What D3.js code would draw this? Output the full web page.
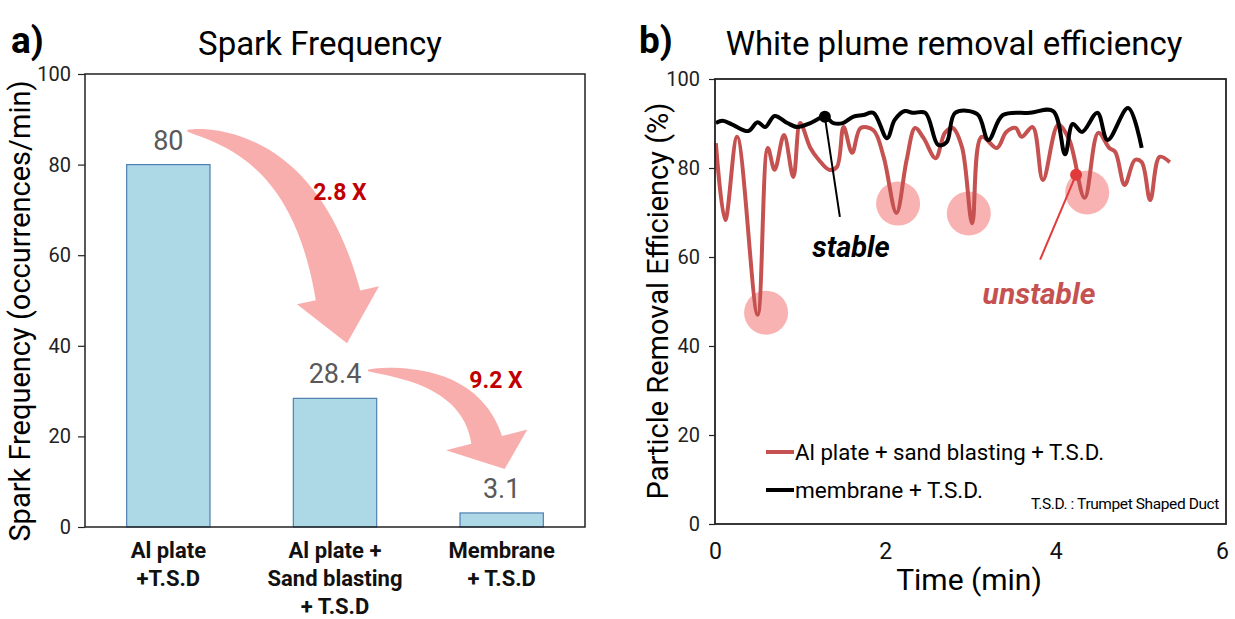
<!DOCTYPE html>
<html>
<head>
<meta charset="utf-8">
<script src="https://cdnjs.cloudflare.com/ajax/libs/d3/7.8.5/d3.min.js"></script>
<style>
  body { margin: 0; background: #fff; }
  svg text { font-family: Roboto, "DejaVu Sans", sans-serif; }
</style>
</head>
<body>
<svg id="chart" width="1235" height="619"></svg>
<script>
// ---- panel a) data
const categories = [["Al plate", "+T.S.D"], ["Al plate +", "Sand blasting", "+ T.S.D"], ["Membrane", "+ T.S.D"]]
const sparkFreq = [80, 28.4, 3.1]
const foldLabels = ["2.8 X", "9.2 X"]
const yTicksA = [0, 20, 40, 60, 80, 100]

// ---- panel b) data
const timeMembrane = [0.01, 0.09, 0.21, 0.39, 0.50, 0.59, 0.70, 0.85, 0.97, 1.12, 1.29, 1.39, 1.50, 1.62, 1.74, 1.86, 2.02, 2.11, 2.23, 2.32, 2.47, 2.62, 2.72, 2.82, 3.08, 3.21, 3.38, 3.70, 3.97, 4.11, 4.20, 4.31, 4.49, 4.61, 4.85, 5.01]
const effMembrane = [90.1, 90.6, 89.7, 88.3, 90.3, 89.2, 91.7, 90.1, 89.2, 90.1, 91.5, 90.1, 90.1, 91.5, 91.9, 92.4, 86.7, 90.8, 92.8, 92.4, 92.4, 85.2, 85.8, 92.4, 92.1, 86.3, 91.9, 92.4, 92.8, 83.1, 89.9, 88.1, 92.4, 86.3, 93.5, 84.5]
const timeSand = [0.01, 0.12, 0.26, 0.50, 0.62, 0.70, 0.81, 0.92, 1.00, 1.12, 1.22, 1.34, 1.43, 1.51, 1.61, 1.71, 1.86, 1.98, 2.13, 2.25, 2.35, 2.45, 2.59, 2.70, 2.79, 2.90, 3.02, 3.13, 3.31, 3.42, 3.53, 3.60, 3.73, 3.85, 4.03, 4.16, 4.34, 4.50, 4.63, 4.70, 4.81, 4.93, 5.01, 5.11, 5.22, 5.34]
const effSand = [85.6, 68.3, 87.0, 47.0, 84.5, 79.6, 87.4, 78.0, 90.1, 84.5, 81.8, 79.6, 80.2, 89.2, 83.4, 89.0, 88.5, 82.5, 69.9, 81.8, 89.0, 86.7, 82.2, 87.9, 89.0, 84.7, 67.6, 87.0, 84.5, 88.1, 89.0, 87.0, 89.2, 77.3, 89.7, 86.3, 73.3, 87.9, 84.5, 83.6, 76.2, 81.8, 81.3, 72.8, 82.5, 81.3]
const unstableDips = [[0.6, 47.5], [2.15, 72], [2.98, 69.8], [4.37, 74.5]]
const stablePoint = [1.29, 91.5]
const unstablePoint = [4.24, 78.5]
const legendNames = ["Al plate + sand blasting + T.S.D.", "membrane + T.S.D."]
const xTicksB = [0, 2, 4, 6]
const yTicksB = [0, 20, 40, 60, 80, 100]

const svg = d3.select("#chart")
const pink = "#f8a5a5"
const redLine = "#c55150"

// ================= panel a =================
const xA = d3.scaleBand().domain(d3.range(categories.length)).range([85, 585]).paddingInner(0.5).paddingOuter(0.25)
const yA = d3.scaleLinear().domain([0, 100]).range([527, 74])

svg.append("text").attr("x", 11).attr("y", 53).attr("font-size", 37).attr("font-weight", "bold").text("a)")
svg.append("text").attr("x", 320).attr("y", 55).attr("text-anchor", "middle").attr("font-size", 33).text("Spark Frequency")

svg.append("g").selectAll("rect").data(sparkFreq).join("rect")
  .attr("x", (d, i) => xA(i))
  .attr("y", d => yA(d))
  .attr("width", xA.bandwidth())
  .attr("height", d => yA(0) - yA(d))
  .attr("fill", "#add8e6")
  .attr("stroke", "#4f7fb3")
  .attr("stroke-width", 1.2)

svg.append("g").selectAll("text").data(sparkFreq).join("text")
  .attr("x", (d, i) => xA(i) + xA.bandwidth() / 2)
  .attr("y", d => yA(d) - 15)
  .attr("text-anchor", "middle")
  .attr("font-size", 27)
  .attr("fill", "#595959")
  .text(d => d)

svg.append("rect").attr("x", 85).attr("y", yA(100)).attr("width", 500).attr("height", yA(0) - yA(100))
  .attr("fill", "none").attr("stroke", "#222").attr("stroke-width", 1.5)

const axA = svg.append("g").attr("transform", "translate(85,0)")
  .call(d3.axisLeft(yA).tickValues(yTicksA).tickSize(7).tickPadding(7))
axA.select(".domain").remove()
axA.selectAll("line").attr("stroke", "#222").attr("stroke-width", 1.2)
axA.selectAll("text").attr("font-size", 20).attr("font-family", "Roboto").attr("fill", "#222")

svg.append("text").attr("transform", "translate(30,311) rotate(-90)").attr("text-anchor", "middle")
  .attr("font-size", 29).text("Spark Frequency (occurrences/min)")

categories.forEach((lines, i) => {
  const t = svg.append("text").attr("text-anchor", "middle").attr("font-family", "Lato")
    .attr("font-weight", "bold").attr("font-size", 22).attr("fill", "#111")
  lines.forEach((s, j) => {
    t.append("tspan").attr("x", xA(i) + xA.bandwidth() / 2).attr("y", 558 + j * 28).text(s)
  })
})

// curved fat arrow: quadratic body tapering from 0 to w, with triangular head
function fatArrow(p0, c, p1, tip, w, hw) {
  const n = 30, left = [], right = []
  for (let k = 0; k <= n; k++) {
    const t = k / n
    const x = (1 - t) * (1 - t) * p0[0] + 2 * (1 - t) * t * c[0] + t * t * p1[0]
    const y = (1 - t) * (1 - t) * p0[1] + 2 * (1 - t) * t * c[1] + t * t * p1[1]
    const dx = 2 * (1 - t) * (c[0] - p0[0]) + 2 * t * (p1[0] - c[0])
    const dy = 2 * (1 - t) * (c[1] - p0[1]) + 2 * t * (p1[1] - c[1])
    const len = Math.hypot(dx, dy)
    const nx = -dy / len, ny = dx / len
    const half = w * Math.pow(t, 0.7) / 2 + 0.8
    left.push([x + nx * half, y + ny * half])
    right.push([x - nx * half, y - ny * half])
  }
  const dx = p1[0] - c[0], dy = p1[1] - c[1], len = Math.hypot(dx, dy)
  const nx = -dy / len, ny = dx / len
  const pts = left.concat([[p1[0] + nx * hw / 2, p1[1] + ny * hw / 2], tip, [p1[0] - nx * hw / 2, p1[1] - ny * hw / 2]], right.reverse())
  return "M" + pts.map(p => p.join(",")).join("L") + "Z"
}

const cx = i => xA(i) + xA.bandwidth() / 2
svg.append("path").attr("fill", pink).attr("opacity", 0.9)
  .attr("d", fatArrow([cx(0) + 19, yA(sparkFreq[0]) - 34], [cx(1) - 30, yA(sparkFreq[0]) - 20], [cx(1) + 3, yA(sparkFreq[1]) - 103], [cx(1) + 12, yA(sparkFreq[1]) - 55], 44, 84))
svg.append("path").attr("fill", pink).attr("opacity", 0.9)
  .attr("d", fatArrow([cx(1) + 33, yA(sparkFreq[1]) - 28], [cx(2) - 32, yA(sparkFreq[1]) - 25], [cx(2) - 15, yA(sparkFreq[2]) - 73], [cx(2) + 3, yA(sparkFreq[2]) - 44], 30, 84))

svg.append("text").attr("x", 340).attr("y", 200).attr("text-anchor", "middle").attr("font-size", 23)
  .attr("font-weight", "bold").attr("fill", "#c00000").text(foldLabels[0])
svg.append("text").attr("x", 496).attr("y", 388).attr("text-anchor", "middle").attr("font-size", 23)
  .attr("font-weight", "bold").attr("fill", "#c00000").text(foldLabels[1])

// ================= panel b =================
const xB = d3.scaleLinear().domain([0, 6]).range([715, 1226])
const yB = d3.scaleLinear().domain([0, 100]).range([524, 79])

svg.append("text").attr("x", 639).attr("y", 53).attr("font-size", 37).attr("font-weight", "bold").text("b)")
svg.append("text").attr("x", 954).attr("y", 55).attr("text-anchor", "middle").attr("font-size", 33).text("White plume removal efficiency")

// highlight circles behind lines
svg.append("g").selectAll("circle").data(unstableDips).join("circle")
  .attr("cx", d => xB(d[0])).attr("cy", d => yB(d[1])).attr("r", 22)
  .attr("fill", pink).attr("opacity", 0.85)

const line = d3.line().x(d => xB(d[0])).y(d => yB(d[1])).curve(d3.curveCatmullRom.alpha(0.5))

svg.append("path").datum(d3.zip(timeSand, effSand)).attr("d", line)
  .attr("fill", "none").attr("stroke", redLine).attr("stroke-width", 4).attr("stroke-linejoin", "round")
svg.append("path").datum(d3.zip(timeMembrane, effMembrane)).attr("d", line)
  .attr("fill", "none").attr("stroke", "#000").attr("stroke-width", 4).attr("stroke-linejoin", "round")

svg.append("rect").attr("x", 715).attr("y", yB(100)).attr("width", 511).attr("height", yB(0) - yB(100))
  .attr("fill", "none").attr("stroke", "#222").attr("stroke-width", 1.8)

const axB = svg.append("g").attr("transform", "translate(715,0)")
  .call(d3.axisLeft(yB).tickValues(yTicksB).tickSize(6).tickPadding(9))
axB.select(".domain").remove()
axB.selectAll("line").attr("stroke", "#222").attr("stroke-width", 1.2)
axB.selectAll("text").attr("font-size", 20).attr("font-family", "Roboto").attr("fill", "#222")

const axBx = svg.append("g").attr("transform", `translate(0,${yB(0)})`)
  .call(d3.axisBottom(xB).tickValues(xTicksB).tickFormat(d3.format("d")).tickSize(0).tickPadding(19))
axBx.select(".domain").remove()
axBx.selectAll("text").attr("font-size", 23).attr("font-family", "Roboto").attr("fill", "#111")
axBx.selectAll(".tick").filter(d => d === 6).select("text").attr("dx", -4)

svg.append("text").attr("x", 969).attr("y", 590).attr("text-anchor", "middle").attr("font-size", 30).text("Time (min)")
svg.append("text").attr("transform", "translate(668,301) rotate(-90)").attr("text-anchor", "middle")
  .attr("font-size", 29).text("Particle Removal Efficiency (%)")

// annotations
svg.append("line").attr("x1", xB(stablePoint[0])).attr("y1", yB(stablePoint[1]))
  .attr("x2", xB(stablePoint[0]) + 15).attr("y2", yB(stablePoint[1]) + 100)
  .attr("stroke", "#000").attr("stroke-width", 2)
svg.append("circle").attr("cx", xB(stablePoint[0])).attr("cy", yB(stablePoint[1])).attr("r", 6).attr("fill", "#000")
svg.append("text").attr("x", 851).attr("y", 257).attr("text-anchor", "middle").attr("font-size", 29)
  .attr("font-weight", "bold").attr("font-style", "italic").text("stable")

svg.append("line").attr("x1", xB(unstablePoint[0])).attr("y1", yB(unstablePoint[1]))
  .attr("x2", xB(unstablePoint[0]) - 36).attr("y2", yB(unstablePoint[1]) + 85)
  .attr("stroke", "#e03a3a").attr("stroke-width", 2)
svg.append("circle").attr("cx", xB(unstablePoint[0])).attr("cy", yB(unstablePoint[1])).attr("r", 6).attr("fill", "#e03a3a")
svg.append("text").attr("x", 1039).attr("y", 304).attr("text-anchor", "middle").attr("font-size", 30)
  .attr("font-weight", "bold").attr("font-style", "italic").attr("fill", redLine).text("unstable")

// legend
const legendColors = [redLine, "#000"]
const legendWidths = [309, 188]
legendNames.forEach((name, i) => {
  const ly = 452 + i * 38
  svg.append("line").attr("x1", 766).attr("x2", 794).attr("y1", ly).attr("y2", ly)
    .attr("stroke", legendColors[i]).attr("stroke-width", 4)
  svg.append("text").attr("x", 795).attr("y", ly + 8).attr("font-size", 22)
    .attr("textLength", legendWidths[i]).attr("lengthAdjust", "spacingAndGlyphs").text(name)
})
svg.append("text").attr("x", 1219).attr("y", 509).attr("text-anchor", "end").attr("font-size", 15.5)
  .attr("letter-spacing", -0.4).text("T.S.D. : Trumpet Shaped Duct")
</script>
</body>
</html>
